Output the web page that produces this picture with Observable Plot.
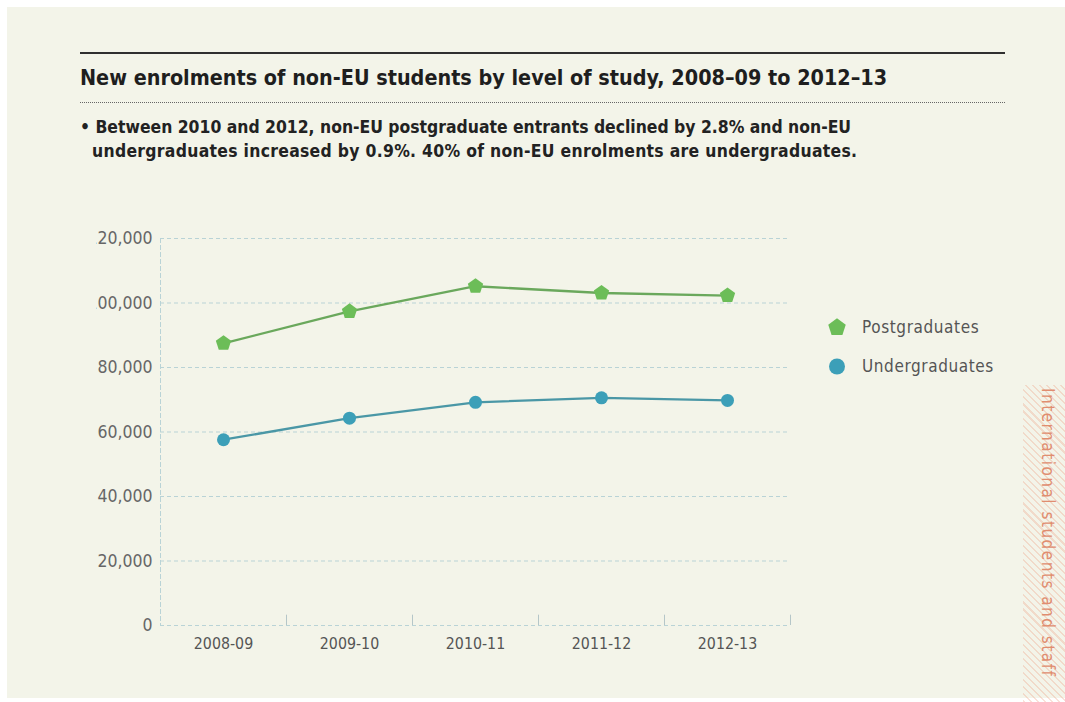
<!DOCTYPE html>
<html>
<head>
<meta charset="utf-8">
<script src="https://cdn.jsdelivr.net/npm/d3@7"></script>
<script src="https://cdn.jsdelivr.net/npm/@observablehq/plot@0.6"></script>
<style>
  html, body { margin: 0; padding: 0; background: #ffffff; width: 1065px; height: 702px; overflow: hidden; }
  #panel { position: absolute; left: 7px; top: 7px; right: 0; bottom: 4px; background: #f3f4e9; }
  .abs { position: absolute; }
  #topRule { left: 80px; top: 52px; width: 925px; height: 2px; background: #2f2f2f; }
  #title { left: 80px; top: 65px; font: bold 21.4px "DejaVu Sans Condensed", "Liberation Sans Narrow", Roboto, sans-serif; color: #1e1e1e; white-space: nowrap; }
  #dotRule { left: 80px; top: 102px; width: 925px; height: 0; border-top: 1.5px dotted #666; }
  #subtitle { left: 80px; top: 115px; font: bold 17.4px "DejaVu Sans Condensed", "Liberation Sans Narrow", Roboto, sans-serif; color: #222; line-height: 24px; white-space: nowrap; }
  #subtitle .l2 { padding-left: 12px; letter-spacing: 0.3px; }
  #chart { left: 0; top: 200px; }
  #chart svg { clip-path: inset(0 0 0 96px); }
  #legend { left: 826px; top: 307px; font: 17px "DejaVu Sans Condensed", "Liberation Sans Narrow", Roboto, sans-serif; color: #555; letter-spacing: 0.6px; }
  #legend .row { display: flex; align-items: center; height: 39px; }
  #legend svg { margin-right: 14px; }
  #strip { left: 1023px; top: 385px; width: 42px; height: 317px;
    background: repeating-linear-gradient(45deg, rgba(236,150,120,0.28) 0 1.5px, rgba(0,0,0,0) 1.5px 5px); }
  #stripText { left: 1038px; top: 388px; writing-mode: vertical-rl; font: 17px "DejaVu Sans Condensed", "Liberation Sans Narrow", Roboto, sans-serif; color: #e08d70; letter-spacing: 1.5px; white-space: nowrap; }
</style>
</head>
<body>
<div id="panel"></div>
<div id="topRule" class="abs"></div>
<div id="title" class="abs"></div>
<div id="dotRule" class="abs"></div>
<div id="subtitle" class="abs"></div>
<div id="chart" class="abs"></div>
<div id="legend" class="abs"></div>
<div id="strip" class="abs"></div>
<div id="stripText" class="abs"></div>
<script>
// ---- Data ----
const categories = ["2008-09", "2009-10", "2010-11", "2011-12", "2012-13"];
const postgraduates = [87500, 97400, 105200, 103100, 102300];
const undergraduates = [57600, 64300, 69200, 70600, 69800];
const yTicks = [0, 20000, 40000, 60000, 80000, 100000, 120000];
const seriesNames = ["Postgraduates", "Undergraduates"];
const titleText = "New enrolments of non-EU students by level of study, 2008–09 to 2012–13";
const subtitleLines = [
  "• Between 2010 and 2012, non-EU postgraduate entrants declined by 2.8% and non-EU",
  "undergraduates increased by 0.9%. 40% of non-EU enrolments are undergraduates."
];
const sideLabel = "International students and staff";

// ---- Styles ----
const greenDot = "#6cbd58", greenLine = "#6aa85c";
const blueDot = "#3c9fb8", blueLine = "#4a97a6";
const gridColor = "#b9d3d6";
const tickColor = "#b5c6c8";
const labelFont = '"DejaVu Sans Condensed", "Liberation Sans Narrow", Roboto, sans-serif';

const pentagon = {
  draw(context, size) {
    const r = Math.sqrt(size / 2.3776);
    for (let i = 0; i < 5; i++) {
      const a = -Math.PI / 2 + i * 2 * Math.PI / 5;
      const x = r * Math.cos(a), y = r * Math.sin(a);
      if (i) context.lineTo(x, y); else context.moveTo(x, y);
    }
    context.closePath();
  }
};

const data = [];
categories.forEach((c, i) => {
  data.push({year: c, series: seriesNames[0], value: postgraduates[i]});
  data.push({year: c, series: seriesNames[1], value: undergraduates[i]});
});
const post = data.filter(d => d.series === seriesNames[0]);
const under = data.filter(d => d.series === seriesNames[1]);

document.getElementById("title").textContent = titleText;
document.getElementById("subtitle").innerHTML =
  `<div>${subtitleLines[0]}</div><div class="l2">${subtitleLines[1]}</div>`;
document.getElementById("stripText").textContent = sideLabel;

const chart = Plot.plot({
  width: 820,
  height: 480,
  marginLeft: 160,
  marginRight: 30,
  marginTop: 38,
  marginBottom: 55,
  style: {background: "transparent", fontFamily: labelFont, overflow: "visible"},
  x: {type: "band", domain: categories, padding: 0, label: null},
  y: {domain: [0, 120000], label: null},
  marks: [
    Plot.gridY(yTicks, {stroke: gridColor, strokeOpacity: 1, strokeDasharray: "4,3", strokeWidth: 1}),
    Plot.frame({anchor: "left", stroke: gridColor, strokeDasharray: "4,3"}),
    Plot.ruleX(categories, {x: d => d, dx: 63, y1: 0, y2: 3200, stroke: tickColor, strokeWidth: 1}),
    Plot.axisY(yTicks, {tickFormat: d3.format(","), tickSize: 0, tickPadding: 8, fontSize: 17.5, fill: "#666", label: null}),
    Plot.axisX({tickSize: 0, tickPadding: 12, fontSize: 15.8, fill: "#555", label: null}),
    Plot.line(post, {x: "year", y: "value", stroke: greenLine, strokeWidth: 2.3}),
    Plot.line(under, {x: "year", y: "value", stroke: blueLine, strokeWidth: 2.3}),
    Plot.dot(post, {x: "year", y: "value", symbol: pentagon, r: 7, fill: greenDot, stroke: "none"}),
    Plot.dot(under, {x: "year", y: "value", symbol: "circle", r: 6.5, fill: blueDot, stroke: "none"})
  ]
});
document.getElementById("chart").appendChild(chart);

// legend
const legend = document.getElementById("legend");
const legendItems = [
  {name: seriesNames[0], color: greenDot, shape: "pentagon"},
  {name: seriesNames[1], color: blueDot, shape: "circle"}
];
legendItems.forEach(item => {
  const row = document.createElement("div");
  row.className = "row";
  const s = d3.create("svg").attr("width", 22).attr("height", 22);
  const sym = item.shape === "pentagon" ? pentagon : d3.symbolCircle;
  s.append("path").attr("transform", "translate(11,11.5)")
    .attr("d", d3.symbol(sym, Math.PI * 8 * 8)()).attr("fill", item.color);
  row.appendChild(s.node());
  const t = document.createElement("span");
  t.textContent = item.name;
  row.appendChild(t);
  legend.appendChild(row);
});
</script>
</body>
</html>
